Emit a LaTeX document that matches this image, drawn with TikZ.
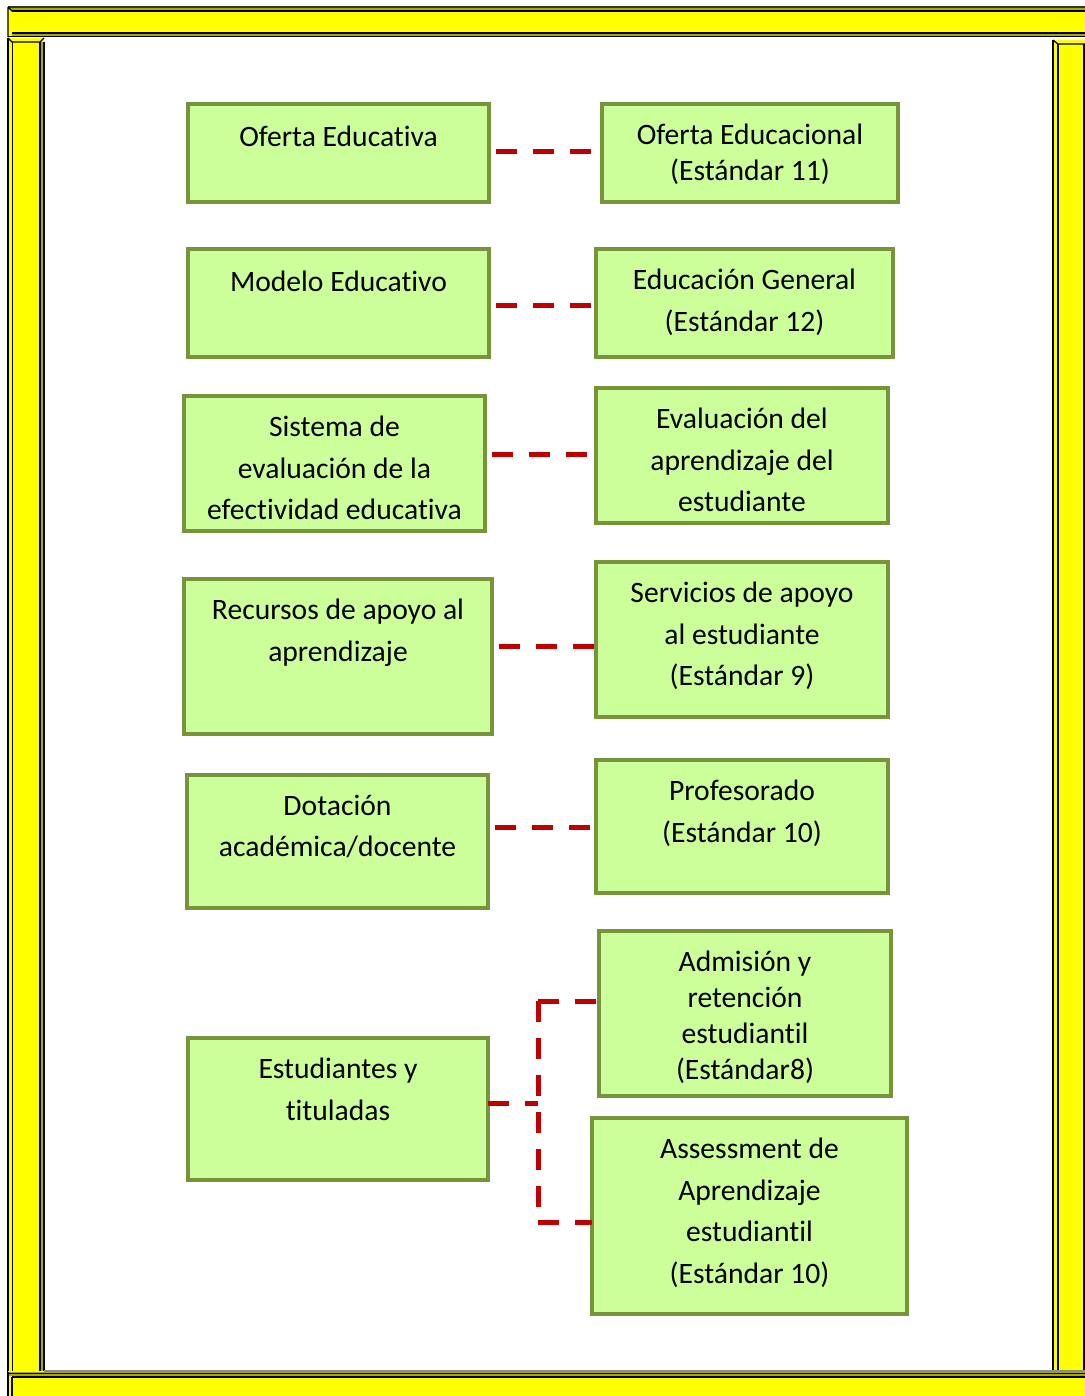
\documentclass[tikz,border=0pt]{standalone}
\usepackage{fontspec}
\setmainfont{Carlito}[Ligatures=NoCommon]
\definecolor{barY}{HTML}{FFFF00}
\definecolor{barO}{HTML}{A8A800}
\definecolor{boxF}{HTML}{CCFF99}
\definecolor{boxD}{HTML}{77933C}
\definecolor{lnk}{HTML}{C00000}
\newcommand\bx[5]{\node[box,minimum width=#4*0.75pt,minimum height=#5*0.75pt,anchor=north west] (#1) at (#2,#3) {};}
\begin{document}
\begin{tikzpicture}[x=0.75pt,y=-0.75pt,
  box/.style={draw=boxD,fill=boxF,line width=3pt,inner sep=0pt,outer sep=0pt},
  txt/.style={anchor=north,inner sep=0pt,align=center,
    font=\fontsize{22.2pt}{31.2pt}\selectfont,
    execute at begin node={\rule{0pt}{17pt}}},
  tight/.style={font=\fontsize{22.2pt}{27pt}\selectfont},
  link/.style={draw=lnk,line width=3.75pt,dash pattern=on 15.75pt off 12pt,dash phase=22.5pt}]
\useasboundingbox[fill=white] (0,0) rectangle (1085,1396);

% --- yellow picture frame ---
\begin{scope}[line width=0.9pt]
  % top bar
  \fill[barY] (8,7) rectangle (1085,37);
  \fill[barO] (8,7) -- (1085,7) -- (1085,11) -- (12,11) -- cycle;
  \fill[barO] (12,33) rectangle (1085,36);
  \draw[black!80] (8,7) -- (1085,7);
  \draw (12,11) -- (1085,11);
  \draw (12,33) -- (1085,33);
  \draw (8,36.5) -- (1085,36.5);
  \draw (8,7) -- (12,11) (8,7) -- (8,37);
  % left bar
  \fill[barY] (8,38) rectangle (44,1372);
  \fill[barO] (40,42) rectangle (44,1372);
  \draw (8,38) -- (8,1372);
  \draw (12.5,42) -- (12.5,1372);
  \draw (40,42) -- (40,1372);
  \draw (44,42) -- (44,1372);
  \draw (8,38) -- (12,42) -- (40,42) -- (44,38);
  % right bar
  \fill[barY] (1053,40) rectangle (1085,1372);
  \draw (1053,40) -- (1053,1372);
  \draw (1058,44) -- (1058,1372);
  \draw (1084,44) -- (1084,1372);
  \draw (1053,40) -- (1058,44) -- (1085,44);
  % bottom bar
  \fill[barY] (8,1371) rectangle (1085,1396);
  \fill[barO] (8,1372) rectangle (1085,1376);
  \draw[black!45] (44,1371) -- (1085,1371);
  \draw (8,1373.5) -- (1085,1373.5);
  \draw (12,1377) -- (1085,1377);
  \draw (8,1372) -- (8,1396) (12,1377) -- (12,1396);
\end{scope}

% --- boxes: left column ---
\bx{oe}{188}{104}{301}{98}
\bx{me}{188}{249}{301}{108}
\bx{se}{184}{396}{301}{135}
\bx{ra}{184}{579}{308}{155}
\bx{da}{187}{775}{301}{133}
\bx{et}{188}{1038}{300}{142}
% --- boxes: right column ---
\bx{oc}{602}{104}{296}{98}
\bx{eg}{596}{249}{297}{108}
\bx{ea}{596}{388}{292}{135}
\bx{sa}{596}{562}{292}{155}
\bx{pr}{596}{760}{292}{133}
\bx{ad}{599}{931}{292}{165}
\bx{as}{592}{1118}{315}{196}

% --- texts ---
\node[txt] at ([yshift=-14.75pt]oe.north) {Oferta Educativa};
\node[txt] at ([yshift=-14.75pt]me.north) {Modelo Educativo};
\node[txt] at ([yshift=-14.75pt]se.north) {Sistema de\\evaluación de la\\efectividad educativa};
\node[txt] at ([yshift=-14.75pt]ra.north) {Recursos de apoyo al\\aprendizaje};
\node[txt] at ([yshift=-14.75pt]da.north) {Dotación\\académica/docente};
\node[txt] at ([yshift=-14.75pt]et.north) {Estudiantes y\\tituladas};
\node[txt,tight] at ([yshift=-14.75pt]oc.north) {Oferta Educacional\\(Estándar 11)};
\node[txt] at ([yshift=-14.75pt]eg.north) {Educación General\\(Estándar 12)};
\node[txt] at ([yshift=-14.75pt]ea.north) {Evaluación del\\aprendizaje del\\estudiante};
\node[txt] at ([yshift=-14.75pt]sa.north) {Servicios de apoyo\\al estudiante\\(Estándar 9)};
\node[txt] at ([yshift=-14.75pt]pr.north) {Profesorado\\(Estándar 10)};
\node[txt,tight] at ([yshift=-14.75pt]ad.north) {Admisión y\\retención\\estudiantil\\(Estándar8)};
\node[txt] at ([yshift=-14.75pt]as.north) {Assessment de\\Aprendizaje\\estudiantil\\(Estándar 10)};

% --- dashed links ---
\draw[link] (oe.east |- 0,151) -- (oc.west |- 0,151);
\draw[link] (me.east |- 0,305) -- (eg.west |- 0,305);
\draw[link] (se.east |- 0,454) -- (ea.west |- 0,454);
\draw[link] (ra.east |- 0,646) -- (sa.west |- 0,646);
\draw[link] (da.east |- 0,827) -- (pr.west |- 0,827);
% bracket to the two student boxes
\coordinate (jt) at (538,1001);
\coordinate (jm) at (538,1103);
\coordinate (jb) at (538,1222);
\draw[link,dash phase=27.75pt] (et.east |- jm) -- (jm);
\draw[link,dash phase=27.75pt] (jt) -- (jb);
\draw[link,dash phase=27.75pt] (jt) -- (ad.west |- jt);
\draw[link,dash phase=27.75pt] (jb) -- (as.west |- jb);
\end{tikzpicture}
\end{document}
